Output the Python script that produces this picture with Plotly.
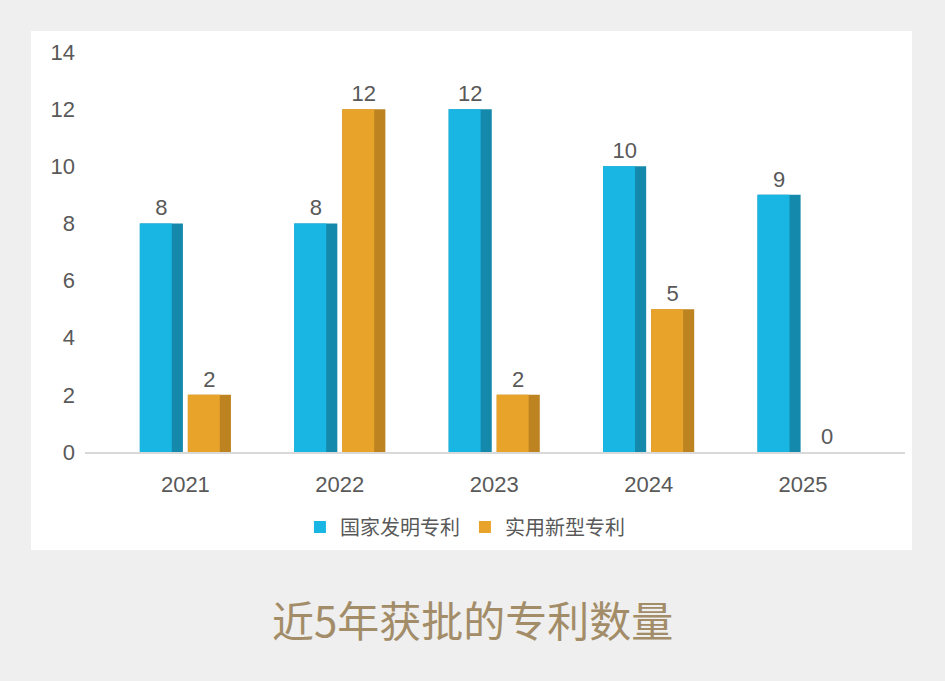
import plotly.graph_objects as go

years = ["2021", "2022", "2023", "2024", "2025"]
invention = [8, 8, 12, 10, 9]
utility = [2, 12, 2, 5, 0]
y_ticks = [0, 2, 4, 6, 8, 10, 12, 14]

blue, blue_side = "#19B6E4", "#1489AB"
orange, orange_side = "#E8A32B", "#BC8320"
txt = "#595959"
font = "Liberation Sans, Arial, Noto Sans CJK SC"

fig = go.Figure()

# dark full-width bar = side face, bright narrower bar on top = front face
fig.add_trace(go.Bar(x=years, y=invention, offset=-0.295, width=0.279,
                     marker=dict(color=blue_side, line=dict(width=0)),
                     text=invention, textposition="outside",
                     textfont=dict(size=22, color=txt), cliponaxis=False,
                     showlegend=False, hoverinfo="skip"))
fig.add_trace(go.Bar(x=years, y=invention, offset=-0.295, width=0.207,
                     marker=dict(color=blue, line=dict(width=0)),
                     name="国家发明专利"))
fig.add_trace(go.Bar(x=years, y=utility, offset=0.016, width=0.279,
                     marker=dict(color=orange_side, line=dict(width=0)),
                     text=utility, textposition="outside",
                     textfont=dict(size=22, color=txt), cliponaxis=False,
                     showlegend=False, hoverinfo="skip"))
fig.add_trace(go.Bar(x=years, y=utility, offset=0.016, width=0.207,
                     marker=dict(color=orange, line=dict(width=0)),
                     name="实用新型专利"))

fig.update_layout(
    width=945, height=681,
    margin=dict(l=0, r=0, t=0, b=0, autoexpand=False),
    paper_bgcolor="#EEEFEE",
    plot_bgcolor="rgba(0,0,0,0)",
    barmode="overlay",
    font=dict(family=font, color=txt),
    xaxis=dict(type="category", range=[-0.65, 4.66],
               domain=[85 / 945, 905 / 945],
               showline=True, linecolor="#D9D9D9", linewidth=2,
               showgrid=False, ticks="", ticklabelstandoff=12,
               tickfont=dict(size=22, color=txt)),
    yaxis=dict(range=[0, 14], tickvals=y_ticks,
               domain=[1 - 452 / 681, 1 - 52 / 681],
               showgrid=False, zeroline=False, showline=False, ticks="",
               ticklabelstandoff=9, tickfont=dict(size=22, color=txt)),
    legend=dict(orientation="h", x=0.492, xanchor="center",
                y=1 - 527 / 681, yanchor="middle",
                font=dict(size=20, color=txt, family="Noto Sans CJK SC"),
                bgcolor="rgba(0,0,0,0)", itemwidth=30),
    shapes=[dict(type="rect", xref="paper", yref="paper", layer="below",
                 x0=31 / 945, x1=912 / 945, y0=1 - 550 / 681, y1=1 - 31 / 681,
                 fillcolor="white", line=dict(width=0))],
    annotations=[dict(text="近5年获批的专利数量", xref="paper", yref="paper",
                      x=0.5, y=1 - 618 / 681, xanchor="center", yanchor="middle",
                      showarrow=False,
                      font=dict(size=42, color="#A38C68",
                                family="Noto Sans CJK SC"))],
)

fig.write_html("out.html", config={"displayModeBar": False},
               post_script="document.body.style.margin='0';")
